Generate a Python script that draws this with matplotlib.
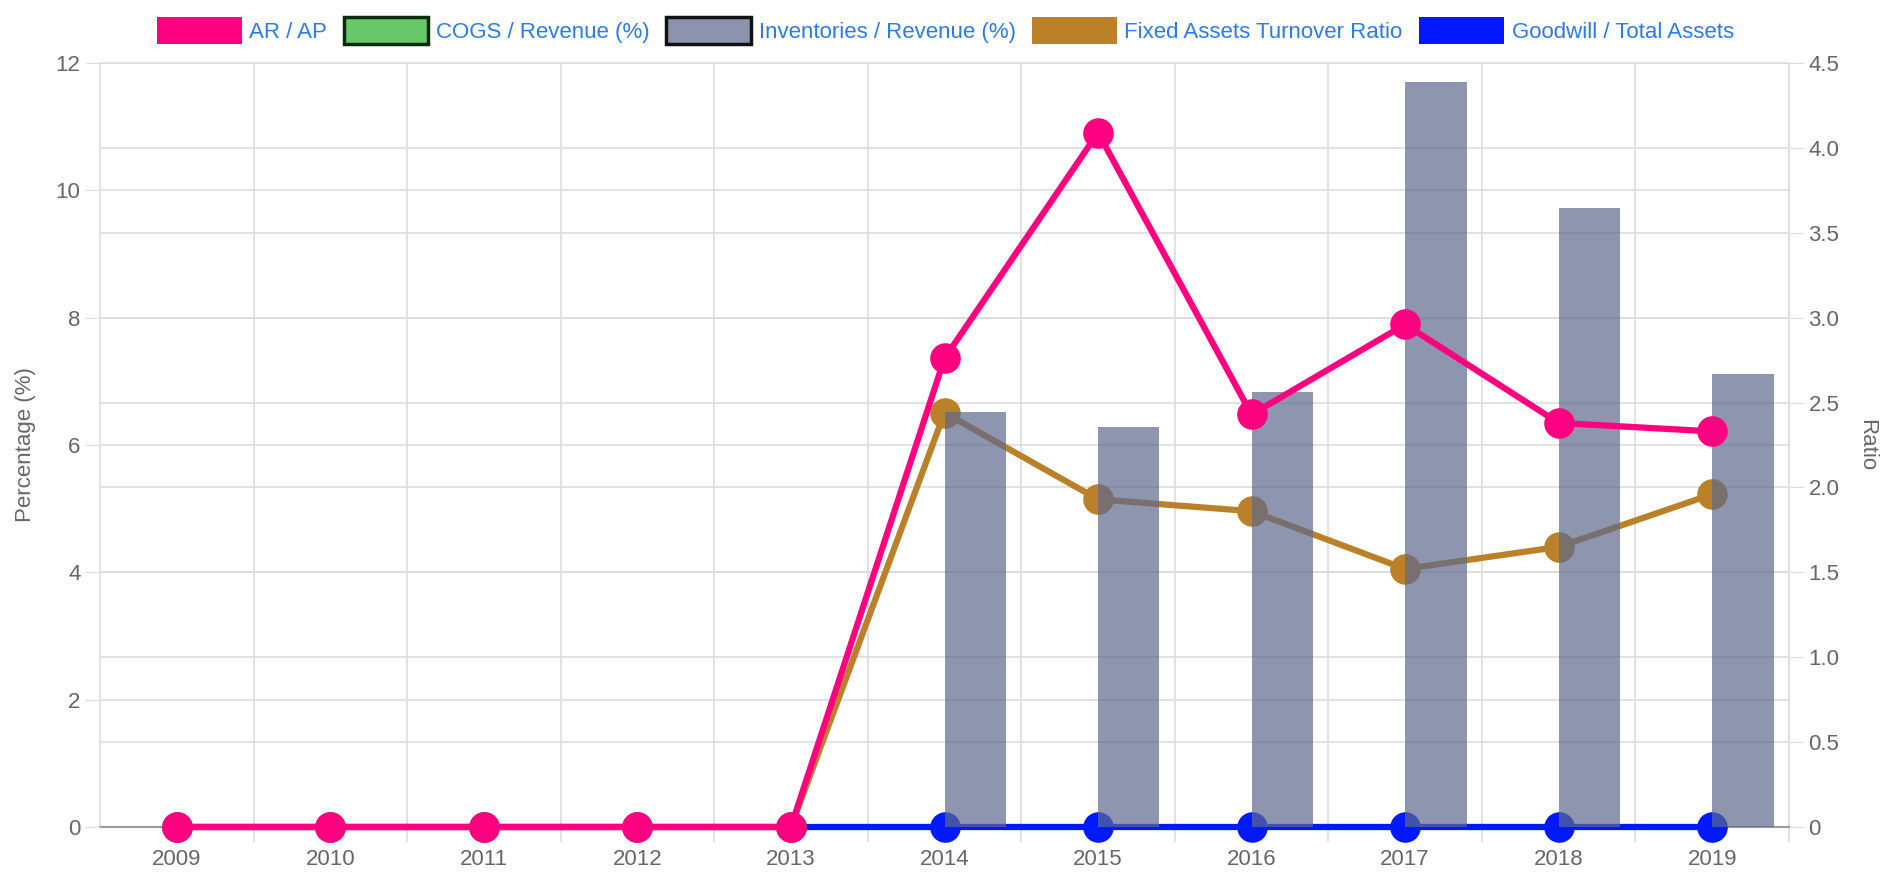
import numpy as np
import matplotlib
matplotlib.use("Agg")
import matplotlib.pyplot as plt
from matplotlib.patches import Patch

plt.rcParams['font.family'] = ['Liberation Sans', 'DejaVu Sans']

years = [2009, 2010, 2011, 2012, 2013, 2014, 2015, 2016, 2017, 2018, 2019]
ar_ap = [0, 0, 0, 0, 0, 2.76, 4.09, 2.43, 2.96, 2.38, 2.33]
cogs_rev = [0, 0, 0, 0, 0, 0, 0, 0, 0, 0, 0]
inv_rev = [0, 0, 0, 0, 0, 6.52, 6.29, 6.84, 11.70, 9.73, 7.12]
fa_turnover = [0, 0, 0, 0, 0, 2.44, 1.93, 1.86, 1.52, 1.65, 1.96]
goodwill = [0, 0, 0, 0, 0, 0, 0, 0, 0, 0, 0]

pct_ticks = [0, 2, 4, 6, 8, 10, 12]
ratio_ticks = [0, 0.5, 1.0, 1.5, 2.0, 2.5, 3.0, 3.5, 4.0, 4.5]

PINK = '#ff0080'
GREEN = '#66c866'
SLATE = '#5e698d'
GOLD = '#bb8128'
BLUE = '#0019ff'
GRID = '#dddddd'
TXT = '#666666'
LEG = '#2a7af5'
FS = 16

x = np.array(years)

fig = plt.figure(figsize=(18.87, 8.72), dpi=100)
pos = [100 / 1887, 1 - 827 / 872, (1789 - 100) / 1887, (827 - 63) / 872]

# bottom layer: ratio axis (gold + blue), grids
ax_r = fig.add_axes(pos, zorder=1)
ax_p = ax_r.twinx()
ax_t = ax_r.twinx()

ax_r.set_ylim(0, 4.5)
ax_r.set_xlim(2008.5, 2019.5)
ax_r.set_yticks(ratio_ticks)
ax_r.set_yticklabels(['0' if t == 0 else f'{t:.1f}' for t in ratio_ticks])
ax_r.yaxis.tick_right()
ax_r.yaxis.set_label_position('right')
ax_r.set_ylabel('Ratio', rotation=270, color=TXT, fontsize=FS, labelpad=27)
ax_r.tick_params(axis='y', colors=TXT, labelsize=FS, length=11, pad=3, color=GRID)
ax_r.grid(axis='y', color=GRID, lw=1.2)
for t in pct_ticks:
    ax_r.axhline(t * 4.5 / 12, color=GRID, lw=1.2, zorder=0.5)
ax_r.set_xticks(x)
ax_r.set_xticklabels([str(y) for y in years])
ax_r.set_xticks(x + 0.5, minor=True)
ax_r.tick_params(axis='x', which='major', length=0, pad=16, labelsize=FS, colors=TXT)
ax_r.tick_params(axis='x', which='minor', length=11, color=GRID, width=1.2)
ax_r.grid(axis='x', which='minor', color=GRID, lw=1.2)
ax_r.set_axisbelow(True)
for s in ['left', 'right', 'top']:
    ax_r.spines[s].set_color(GRID)
    ax_r.spines[s].set_linewidth(1.2)
ax_r.spines['bottom'].set_color('#9a9a9a')
ax_r.spines['bottom'].set_linewidth(1.5)

ax_r.plot(x, goodwill, color=BLUE, lw=4.5, marker='o', ms=21, clip_on=False, zorder=3)
ax_r.plot(x, fa_turnover, color=GOLD, lw=4.5, marker='o', ms=21, clip_on=False, zorder=4)

# middle layer: percentage bars
ax_p.set_zorder(2)
ax_p.patch.set_visible(False)
ax_p.set_ylim(0, 12)
ax_p.set_yticks(pct_ticks)
ax_p.yaxis.tick_left()
ax_p.yaxis.set_label_position('left')
ax_p.set_ylabel('Percentage (%)', color=TXT, fontsize=FS, labelpad=14)
ax_p.tick_params(axis='y', colors=TXT, labelsize=FS, length=11, pad=3, color=GRID)
for s in ax_p.spines.values():
    s.set_visible(False)
ax_p.bar(x - 0.2, cogs_rev, width=0.4, color=GREEN, lw=0)
ax_p.bar(x + 0.2, inv_rev, width=0.4, color=SLATE, alpha=0.7, lw=0)

# top layer: AR / AP
ax_t.set_zorder(3)
ax_t.patch.set_visible(False)
ax_t.set_ylim(0, 4.5)
ax_t.set_yticks([])
for s in ax_t.spines.values():
    s.set_visible(False)
ax_t.plot(x, ar_ap, color=PINK, lw=4.5, marker='o', ms=21, clip_on=False)

handles = [
    Patch(facecolor=PINK, edgecolor=PINK, lw=0),
    Patch(facecolor=GREEN, edgecolor='#0d2a0d', lw=2.5),
    Patch(facecolor='#8c93ad', edgecolor='#111111', lw=2.5),
    Patch(facecolor=GOLD, edgecolor=GOLD, lw=0),
    Patch(facecolor=BLUE, edgecolor=BLUE, lw=0),
]
labels = ['AR / AP', 'COGS / Revenue (%)', 'Inventories / Revenue (%)',
          'Fixed Assets Turnover Ratio', 'Goodwill / Total Assets']
fig.legend(handles, labels, loc='center', bbox_to_anchor=(0.501, 0.965), ncol=5,
           frameon=False, fontsize=16, labelcolor=LEG, handlelength=3.8,
           handleheight=1.5, handletextpad=0.35, columnspacing=0.75)

fig.savefig('out.png', dpi=100)
